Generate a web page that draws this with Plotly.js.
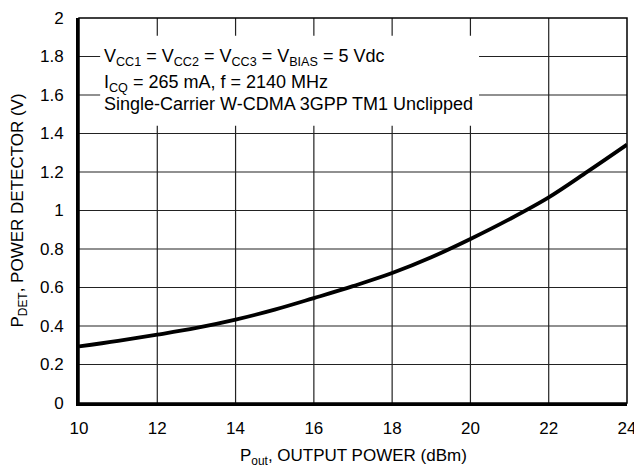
<!DOCTYPE html>
<html>
<head>
<meta charset="utf-8">
<script src="https://cdn.plot.ly/plotly-3.0.1.min.js"></script>
<style>
  html, body { margin: 0; padding: 0; background: #fff; }
  #chart { width: 634px; height: 470px; }
</style>
</head>
<body>
<div id="chart"></div>
<script>
// Data
const poutDbm = [10, 11, 12, 13, 14, 15, 16, 17, 18, 19, 20, 21, 22, 23, 24];
const pdetVolts = [0.294, 0.323, 0.355, 0.390, 0.433, 0.485, 0.545, 0.607, 0.675, 0.757, 0.852, 0.955, 1.068, 1.203, 1.342];
const xTicks = [10, 12, 14, 16, 18, 20, 22, 24];
const yTicks = [0, 0.2, 0.4, 0.6, 0.8, 1, 1.2, 1.4, 1.6, 1.8, 2];
const xRange = [10, 24];
const yRange = [0, 2];
const xTitle = 'P<sub>out</sub>, OUTPUT POWER (dBm)';
const yTitle = 'P<sub>DET</sub>, POWER DETECTOR (V)';
const noteLines = [
  'V<sub>CC1</sub> = V<sub>CC2</sub> = V<sub>CC3</sub> = V<sub>BIAS</sub> = 5 Vdc',
  'I<sub>CQ</sub> = 265 mA, f = 2140 MHz',
  'Single-Carrier W-CDMA 3GPP TM1 Unclipped'
];

const FONT = 'Liberation Sans, Arial, Helvetica, sans-serif';

// Grid drawn as line traces built from the tick arrays (through the axes' scales)
const gx = [], gy = [];
xTicks.slice(1, -1).forEach(t => { gx.push(t, t, null); gy.push(yRange[0], yRange[1], null); });
yTicks.slice(1, -1).forEach(t => { gx.push(xRange[0], xRange[1], null); gy.push(t, t, null); });
const gridTrace = {
  x: gx, y: gy, type: 'scatter', mode: 'lines',
  line: { color: '#222', width: 1.2 },
  connectgaps: false, hoverinfo: 'skip', showlegend: false
};

const trace = {
  x: poutDbm,
  y: pdetVolts,
  type: 'scatter',
  mode: 'lines',
  line: { color: '#000', width: 3.8, shape: 'spline', smoothing: 1 },
  hoverinfo: 'skip',
  showlegend: false
};

const layout = {
  width: 634,
  height: 470,
  margin: { l: 79, r: 7, t: 18, b: 67 },
  paper_bgcolor: '#fff',
  plot_bgcolor: '#fff',
  font: { family: FONT, size: 17, color: '#000' },
  showlegend: false,
  xaxis: {
    range: xRange,
    tickmode: 'array',
    tickvals: xTicks,
    ticks: '',
    ticklabelstandoff: 8,
    ticklabeloverflow: 'allow',
    showgrid: false,
    zeroline: false,
    showline: true,
    linecolor: '#000',
    linewidth: 3,
    fixedrange: true
  },
  yaxis: {
    range: yRange,
    tickmode: 'array',
    tickvals: yTicks,
    ticks: '',
    ticklabelstandoff: 9,
    showgrid: false,
    zeroline: false,
    showline: true,
    linecolor: '#000',
    linewidth: 3,
    fixedrange: true
  },
  shapes: [
    {
      type: 'rect', xref: 'x', yref: 'y',
      x0: 10.54, x1: 20.22, y0: 1.44, y1: 1.908,
      fillcolor: '#fff', line: { width: 0 }, layer: 'above'
    },
    {
      type: 'rect', xref: 'paper', yref: 'paper',
      x0: 0, x1: 1, y0: 0, y1: 1,
      line: { color: '#000', width: 1.5 }, layer: 'above'
    }
  ],
  annotations: noteLines.map((t, i) => ({
    xref: 'x', yref: 'y',
    x: 10.6, y: [1.795, 1.662, 1.553][i],
    xanchor: 'left', yanchor: 'middle',
    text: t, showarrow: false,
    font: { family: FONT, size: 18, color: '#000' }
  })).concat([
    {
      xref: 'paper', yref: 'paper', x: 0.5, y: -0.14,
      xanchor: 'center', yanchor: 'middle',
      text: xTitle, showarrow: false,
      font: { family: FONT, size: 17, color: '#000' }
    },
    {
      xref: 'paper', yref: 'paper', x: -0.1095, y: 0.5,
      xanchor: 'center', yanchor: 'middle', textangle: -90,
      text: yTitle, showarrow: false,
      font: { family: FONT, size: 17, color: '#000' }
    }
  ])
};

Plotly.newPlot('chart', [gridTrace, trace], layout, { displayModeBar: false, staticPlot: true });
</script>
</body>
</html>
